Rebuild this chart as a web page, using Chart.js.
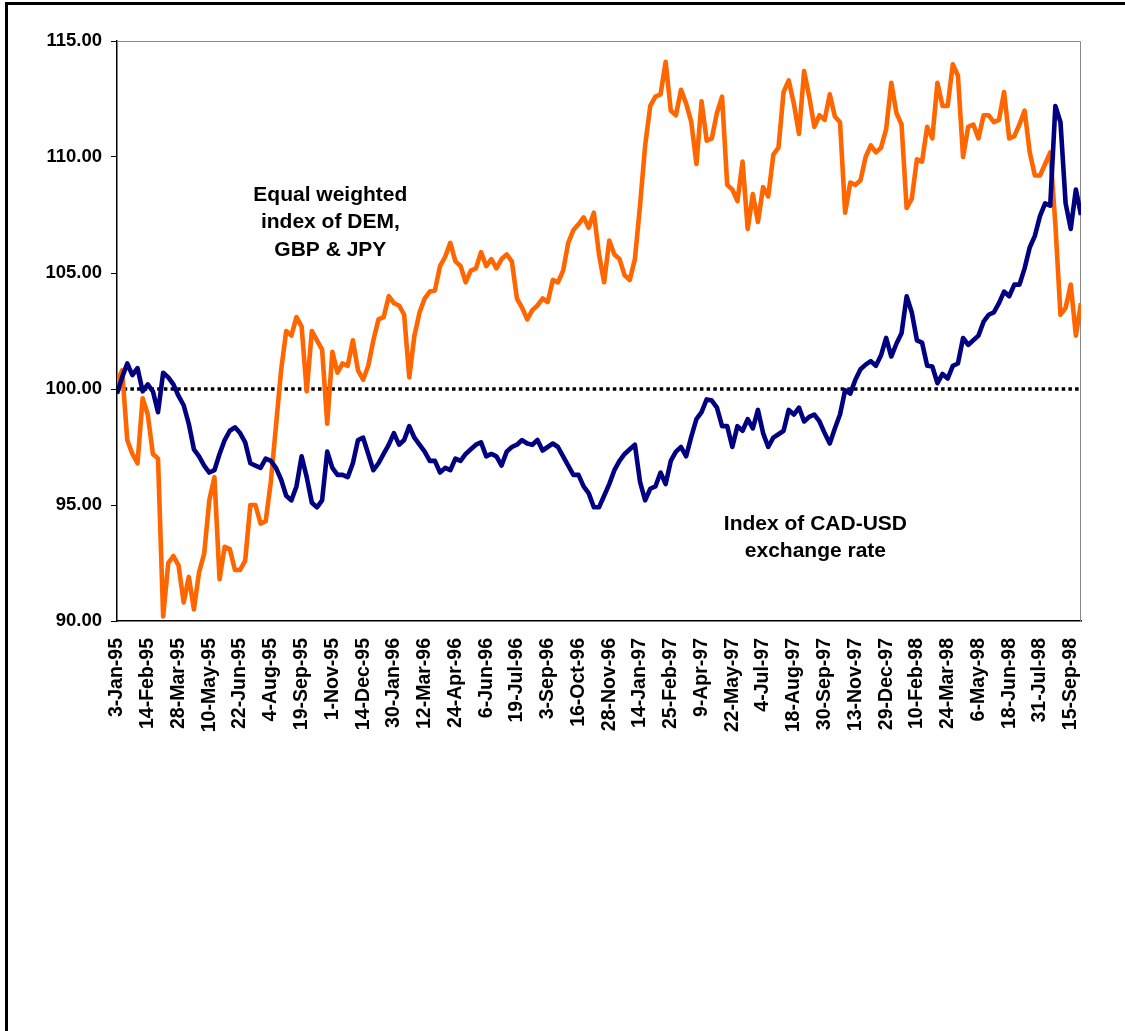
<!DOCTYPE html>
<html>
<head>
<meta charset="utf-8">
<script src="https://cdn.jsdelivr.net/npm/chart.js@4.4.0/dist/chart.umd.min.js"></script>
<style>
html,body{margin:0;padding:0;background:#fff;overflow:hidden;}
#wrap{position:relative;width:1125px;height:1031px;overflow:hidden;}
#frame{position:absolute;left:5px;top:2px;width:1200px;height:1100px;border:3px solid #000;box-sizing:border-box;}
canvas{position:absolute;left:0;top:0;}
</style>
</head>
<body>
<div id="wrap"><div id="frame"></div><canvas id="c" width="1125" height="1031"></canvas></div>
<script>
// ---- DATA ----
const tickLabels = ['3-Jan-95','14-Feb-95','28-Mar-95','10-May-95','22-Jun-95','4-Aug-95','19-Sep-95','1-Nov-95',
  '14-Dec-95','30-Jan-96','12-Mar-96','24-Apr-96','6-Jun-96','19-Jul-96','3-Sep-96','16-Oct-96','28-Nov-96',
  '14-Jan-97','25-Feb-97','9-Apr-97','22-May-97','4-Jul-97','18-Aug-97','30-Sep-97','13-Nov-97','29-Dec-97',
  '10-Feb-98','24-Mar-98','6-May-98','18-Jun-98','31-Jul-98','15-Sep-98'];
const labelEveryDays = 30;   // business days between axis labels
const stepDays = 5;          // business days between series observations (weekly)

const cadUsdIndex = [
  99.8,100.5,101.1,100.6,100.9,99.9,100.2,99.9,99.0,100.7,
  100.5,100.2,99.7,99.3,98.5,97.4,97.1,96.7,96.4,96.5,
  97.2,97.8,98.2,98.35,98.1,97.7,96.8,96.7,96.6,97.0,
  96.9,96.6,96.1,95.4,95.2,95.8,97.1,96.2,95.1,94.9,
  95.2,97.3,96.6,96.3,96.3,96.2,96.8,97.8,97.9,97.2,
  96.5,96.8,97.2,97.6,98.1,97.6,97.8,98.4,97.9,97.6,
  97.3,96.9,96.9,96.4,96.6,96.5,97.0,96.9,97.2,97.4,
  97.6,97.7,97.1,97.2,97.1,96.7,97.3,97.5,97.6,97.8,
  97.65,97.6,97.8,97.35,97.5,97.65,97.5,97.1,96.7,96.3,
  96.3,95.8,95.5,94.9,94.9,95.4,95.9,96.5,96.9,97.2,
  97.4,97.6,96.0,95.2,95.7,95.8,96.4,95.9,96.9,97.3,
  97.5,97.1,97.95,98.7,99.0,99.55,99.5,99.2,98.4,98.4,
  97.5,98.4,98.2,98.7,98.3,99.1,98.1,97.5,97.9,98.05,
  98.2,99.1,98.9,99.2,98.6,98.8,98.9,98.6,98.1,97.65,
  98.3,98.9,99.95,99.8,100.4,100.85,101.05,101.2,101.0,101.45,
  102.2,101.4,101.95,102.4,104.0,103.3,102.1,102.0,101.0,100.97,
  100.25,100.65,100.45,101.0,101.1,102.2,101.9,102.1,102.3,102.9,
  103.2,103.3,103.7,104.2,104.0,104.5,104.5,105.2,106.1,106.6,
  107.45,108.0,107.9,112.2,111.5,108.0,106.9,108.6,107.5
];

const demGbpJpyIndex = [
  100.3,100.8,97.8,97.2,96.8,99.6,98.9,97.2,97.0,90.2,
  92.5,92.8,92.4,90.8,91.9,90.5,92.1,92.9,95.2,96.2,
  91.8,93.2,93.1,92.2,92.2,92.6,95.0,95.0,94.2,94.3,
  96.0,98.4,100.8,102.5,102.3,103.1,102.7,99.9,102.5,102.1,
  101.7,98.5,101.6,100.7,101.1,101.0,102.1,100.8,100.4,101.0,
  102.1,103.0,103.1,104.0,103.7,103.6,103.2,100.5,102.3,103.3,
  103.9,104.2,104.25,105.3,105.7,106.3,105.5,105.3,104.6,105.1,
  105.2,105.9,105.3,105.6,105.2,105.6,105.8,105.5,103.9,103.5,
  103.0,103.4,103.6,103.9,103.75,104.7,104.6,105.1,106.3,106.85,
  107.1,107.4,106.95,107.6,105.8,104.6,106.4,105.8,105.6,104.9,
  104.7,105.6,107.9,110.5,112.2,112.6,112.7,114.1,112.0,111.8,
  112.9,112.3,111.5,109.7,112.4,110.7,110.8,111.9,112.6,108.8,
  108.6,108.1,109.8,106.9,108.4,107.2,108.7,108.3,110.1,110.4,
  112.8,113.3,112.3,111.0,113.7,112.6,111.3,111.8,111.6,112.7,
  111.75,111.5,107.6,108.9,108.8,109.0,110.0,110.5,110.2,110.4,
  111.2,113.2,111.9,111.4,107.8,108.2,109.9,109.8,111.3,110.8,
  113.2,112.2,112.2,114.0,113.5,110.0,111.3,111.4,110.8,111.8,
  111.8,111.5,111.6,112.8,110.8,110.9,111.4,112.0,110.2,109.2,
  109.2,109.7,110.2,107.1,103.2,103.5,104.5,102.3,103.7
];

const baseLevel = 100;
const yMin = 90, yMax = 115, yStep = 5;

const notes = [
  {lines:['Equal weighted','index of DEM,','GBP & JPY'], day:208, value:108.36},
  {lines:['Index of CAD-USD','exchange rate'], day:681, value:94.18}
];

// ---- CHART ----
const lastDay = (cadUsdIndex.length - 1) * stepDays;
const FONT = "'Liberation Sans', Arial, Helvetica, sans-serif";
const toPoints = arr => arr.map((v, i) => ({x: i * stepDays, y: v}));

const plotFrame = {
  id: 'plotFrame',
  beforeDatasetsDraw(chart) {
    const {ctx, chartArea: a} = chart;
    ctx.save();
    ctx.strokeStyle = '#888888';
    ctx.lineWidth = 1;
    ctx.beginPath();
    ctx.moveTo(a.left, a.top + 0.5);
    ctx.lineTo(a.right - 0.5, a.top + 0.5);
    ctx.lineTo(a.right - 0.5, a.bottom);
    ctx.stroke();
    ctx.restore();
  }
};

const noteText = {
  id: 'noteText',
  afterDatasetsDraw(chart) {
    const {ctx, scales: {x, y}} = chart;
    ctx.save();
    ctx.fillStyle = '#000';
    ctx.font = 'bold 21px ' + FONT;
    ctx.textAlign = 'center';
    ctx.textBaseline = 'middle';
    notes.forEach(n => {
      const px = x.getPixelForValue(n.day);
      const py = y.getPixelForValue(n.value);
      n.lines.forEach((t, i) => ctx.fillText(t, px, py + i * 27.5));
    });
    ctx.restore();
  }
};

new Chart(document.getElementById('c'), {
  type: 'line',
  data: {
    datasets: [
      {label: 'Index of CAD-USD exchange rate', data: toPoints(cadUsdIndex),
       borderColor: '#000080', borderWidth: 4.6, pointRadius: 0, tension: 0,
       borderJoinStyle: 'round', order: 0},
      {label: 'Equal weighted index of DEM, GBP & JPY', data: toPoints(demGbpJpyIndex),
       borderColor: '#FF6600', borderWidth: 4.6, pointRadius: 0, tension: 0,
       borderJoinStyle: 'round', order: 1},
      {label: 'Base', data: [{x: 0, y: baseLevel}, {x: lastDay, y: baseLevel}],
       borderColor: '#000', borderWidth: 3.5, borderDash: [3.5, 3.2], pointRadius: 0, order: 2}
    ]
  },
  options: {
    responsive: false,
    animation: false,
    devicePixelRatio: 1,
    layout: {padding: {top: 41, right: 44, left: 0, bottom: 0}},
    plugins: {legend: {display: false}, tooltip: {enabled: false}},
    scales: {
      x: {
        type: 'linear', min: 0, max: lastDay,
        afterFit: s => { s.height = 410; },
        afterBuildTicks: s => { s.ticks = tickLabels.map((_, i) => ({value: i * labelEveryDays})); },
        ticks: {
          autoSkip: false, minRotation: 90, maxRotation: 90, padding: 17, color: '#000',
          font: {family: FONT, size: 19.5, weight: 'bold'},
          callback: v => tickLabels[Math.round(v / labelEveryDays)]
        },
        grid: {display: false, drawTicks: false},
        border: {display: true, color: '#000', width: 1.5}
      },
      y: {
        min: yMin, max: yMax,
        afterFit: s => { s.width = 117; },
        ticks: {
          stepSize: yStep, padding: 9, color: '#000',
          font: {family: FONT, size: 18.5, weight: 'bold'},
          callback: v => v.toFixed(2)
        },
        grid: {drawOnChartArea: false, drawTicks: true, tickLength: 6, color: '#000', lineWidth: 1},
        border: {display: true, color: '#000', width: 1.5}
      }
    }
  },
  plugins: [plotFrame, noteText]
});
</script>
</body>
</html>
